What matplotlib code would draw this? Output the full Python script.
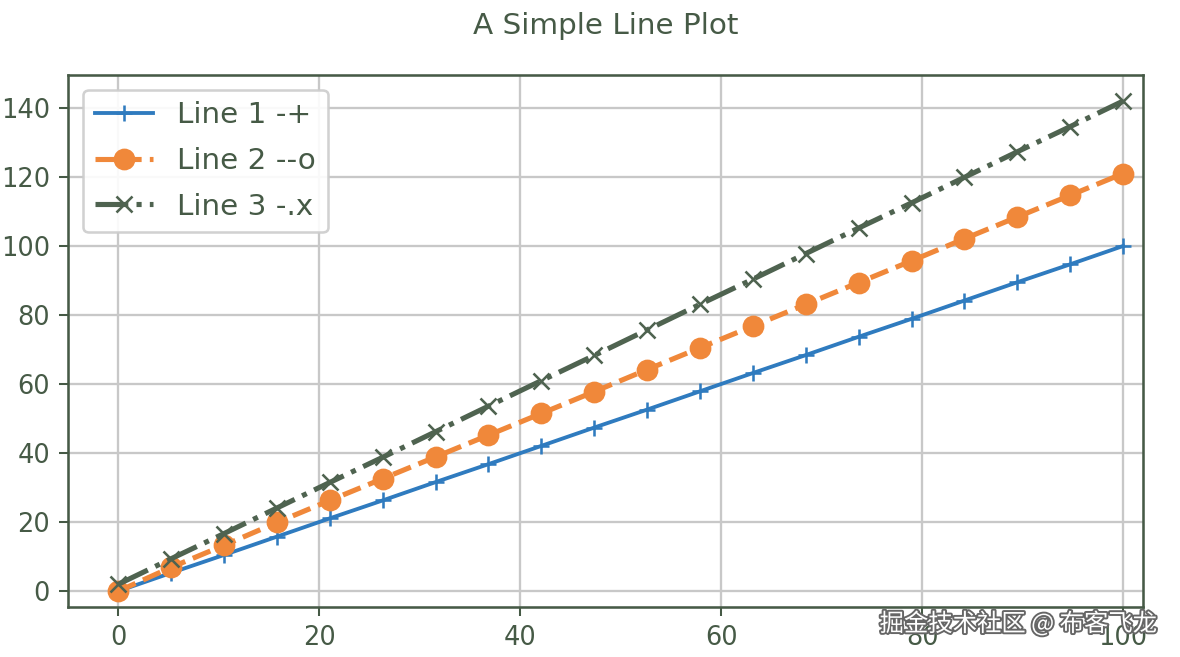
import matplotlib
matplotlib.use("Agg")
import matplotlib.pyplot as plt
import matplotlib.patheffects as pe

# data
x = [0, 5.26, 10.53, 15.79, 21.05, 26.32, 31.58, 36.84, 42.11, 47.37,
     52.63, 57.89, 63.16, 68.42, 73.68, 78.95, 84.21, 89.47, 94.74, 100]
line1 = [0, 5.3, 10.5, 15.8, 21.1, 26.3, 31.6, 36.8, 42.1, 47.4,
         52.6, 57.9, 63.2, 68.4, 73.7, 78.9, 84.2, 89.5, 94.7, 100]
line2 = [0, 6.9, 13.3, 19.9, 26.3, 32.6, 38.9, 45.2, 51.5, 57.8,
         64.2, 70.5, 76.8, 83.1, 89.4, 95.7, 102.1, 108.4, 114.7, 121]
line3 = [2, 9.4, 16.7, 24.1, 31.5, 38.8, 46.2, 53.6, 61.0, 68.3,
         75.7, 83.1, 90.4, 97.8, 105.2, 112.5, 119.9, 127.3, 134.6, 142]
labels = ["Line 1 -+", "Line 2 --o", "Line 3 -.x"]
yticks = [0, 20, 40, 60, 80, 100, 120, 140]

ink = '#465a46'

fig = plt.figure(figsize=(6.4, 3.561), dpi=184.53)
ax = fig.add_axes([0.0576, 0.076, 0.9104, 0.81])

ax.plot(x, line1, '-+', color='#2f7bbf', lw=1.5, ms=6, label=labels[0])
ax.plot(x, line2, '--o', color='#f0883a', lw=2, ms=7.5, label=labels[1])
ax.plot(x, line3, '-.x', color='#4f6350', lw=2, ms=6, label=labels[2])

ax.set_xlim(-5, 102)
ax.set_ylim(-4.6, 149.6)
ax.set_yticks(yticks)
ax.grid(True, color='#c8c8c8', lw=0.9)
ax.set_axisbelow(True)

for s in ax.spines.values():
    s.set_color(ink)
    s.set_linewidth(1.0)
ax.tick_params(colors=ink, labelsize=10)

ax.set_title("A Simple Line Plot", color=ink, fontsize=11.5, pad=16)
leg = ax.legend(loc='upper left', fontsize=11.5, framealpha=0.9, labelspacing=0.6)
for t in leg.get_texts():
    t.set_color(ink)

# watermark
fig.text(0.98, 0.05, "掘金技术社区 @ 布客飞龙", ha='right', va='center', fontsize=9.5,
         color='white', family=['Noto Sans CJK SC', 'DejaVu Sans'],
         path_effects=[pe.withStroke(linewidth=1.5, foreground='#666666')])

fig.savefig("out.png", dpi=184.53)
